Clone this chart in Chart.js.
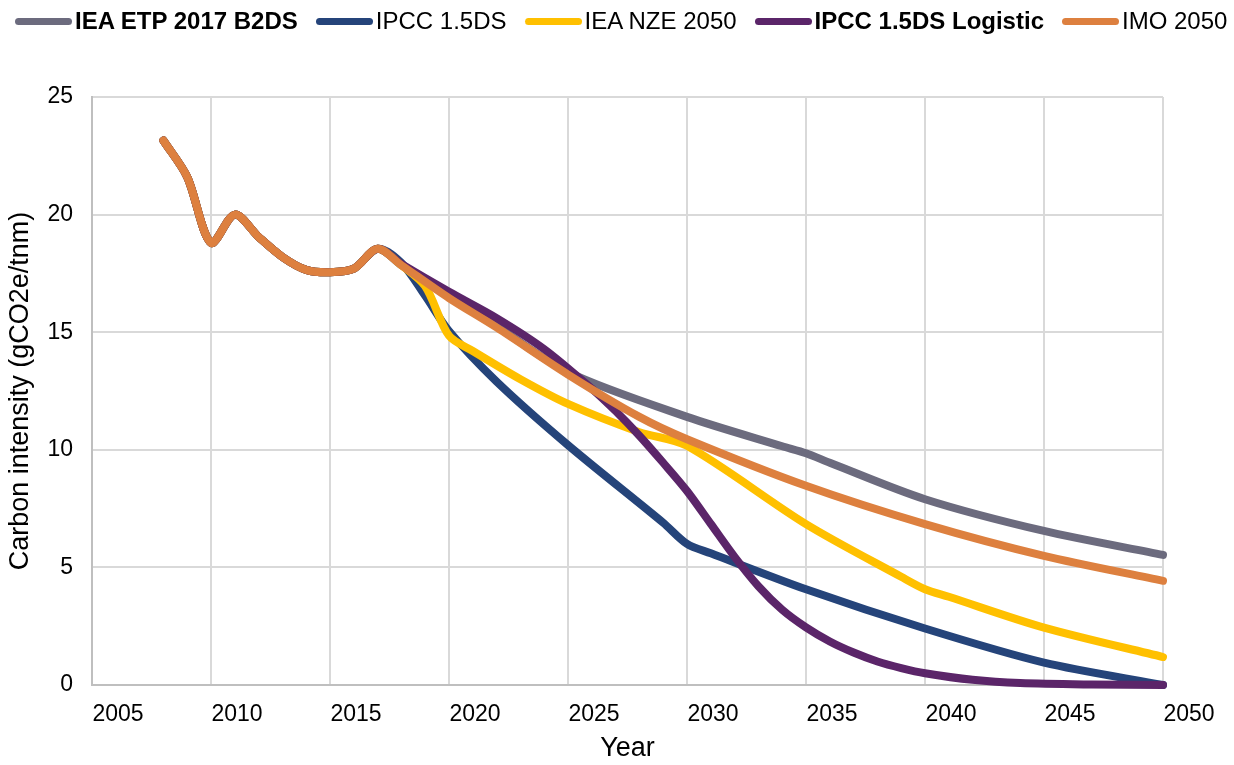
<!DOCTYPE html>
<html><head><meta charset="utf-8">
<script src="https://cdn.jsdelivr.net/npm/chart.js@4.4.1/dist/chart.umd.min.js"></script>
<style>
html,body{margin:0;padding:0;background:#fff;}
#wrap{position:relative;width:1234px;height:765px;overflow:hidden;}
canvas{position:absolute;left:0;top:0;}
#legend{position:absolute;left:15px;top:7px;display:flex;align-items:center;font-family:"Liberation Sans",Arial,sans-serif;font-size:24px;color:#000;white-space:nowrap;line-height:28px;}
.item{display:flex;align-items:center;margin-right:18px;}
.swatch{width:57px;height:7px;border-radius:4px;margin-right:3px;}
</style></head>
<body><div id="wrap"><canvas id="c" width="1234" height="765"></canvas><div id="legend"></div></div>
<script>
// ---- data ----
const seriesNames = ['IEA ETP 2017 B2DS', 'IPCC 1.5DS', 'IEA NZE 2050', 'IPCC 1.5DS Logistic', 'IMO 2050'];
const xTickLabels = ['2005','2010','2015','2020','2025','2030','2035','2040','2045','2050'];
const yTickLabels = ['0','5','10','15','20','25'];

const histYears  = [2008, 2009, 2010, 2011, 2012, 2013, 2014, 2015, 2016];
const histValues = [23.15, 21.6, 18.8, 20.0, 19.05, 18.2, 17.65, 17.55, 17.7];

const b2dsYears  = [2017, 2018, 2020, 2022, 2025, 2030, 2034, 2035, 2036, 2040, 2045, 2050];
const b2dsValues = [18.55, 17.85, 16.5, 15.25, 13.3, 11.4, 10.15, 9.85, 9.45, 7.9, 6.55, 5.53];

const ipccYears  = [2017, 2018, 2019, 2020, 2022, 2025, 2029, 2030, 2031, 2035, 2040, 2045, 2050];
const ipccValues = [18.55, 17.95, 16.55, 15.05, 12.9, 10.2, 6.9, 6.0, 5.6, 4.07, 2.4, 0.95, 0.0];

const nzeYears  = [2017, 2018, 2019, 2020, 2021, 2023, 2025, 2028, 2030, 2035, 2039, 2040, 2041, 2045, 2050];
const nzeValues = [18.55, 17.85, 16.95, 14.85, 14.2, 13.0, 11.95, 10.75, 10.17, 6.84, 4.6, 4.07, 3.75, 2.44, 1.19];

const logisticYears  = [2017, 2018, 2020, 2022, 2024, 2026, 2027, 2028, 2029, 2030, 2031, 2032, 2033, 2034, 2035, 2036, 2037, 2038, 2039, 2040, 2042, 2044, 2047, 2050];
const logisticValues = [18.55, 17.9, 16.72, 15.6, 14.28, 12.6, 11.65, 10.6, 9.45, 8.25, 6.85, 5.45, 4.2, 3.2, 2.45, 1.85, 1.38, 1.0, 0.72, 0.5, 0.22, 0.08, 0.02, 0.0];

const imoYears  = [2017, 2018, 2020, 2022, 2025, 2028, 2030, 2035, 2040, 2045, 2050];
const imoValues = [18.55, 17.85, 16.45, 15.2, 13.2, 11.4, 10.45, 8.47, 6.84, 5.49, 4.43];

// ---- styles ----
const seriesColors = ['#6C6B7E', '#25447A', '#FFC000', '#5B2569', '#DD803F'];
const legendBold = [true, false, false, true, false];
const drawOrder = [5, 4, 3, 2, 1];

function pts(years, values) {
  const xs = histYears.concat(years), ys = histValues.concat(values);
  return xs.map((x, i) => ({x: x, y: ys[i]}));
}
const seriesData = [
  pts(b2dsYears, b2dsValues),
  pts(ipccYears, ipccValues),
  pts(nzeYears, nzeValues),
  pts(logisticYears, logisticValues),
  pts(imoYears, imoValues)
];

// HTML legend
const lg = document.getElementById('legend');
seriesNames.forEach((n, i) => {
  const it = document.createElement('div'); it.className = 'item';
  const sw = document.createElement('span'); sw.className = 'swatch'; sw.style.background = seriesColors[i];
  const tx = document.createElement('span'); tx.textContent = n; if (legendBold[i]) tx.style.fontWeight = 'bold';
  it.appendChild(sw); it.appendChild(tx); lg.appendChild(it);
});

const tickFont = {family: '"Liberation Sans", Arial, sans-serif', size: 23};
const titleFont = {family: '"Liberation Sans", Arial, sans-serif', size: 27};

new Chart(document.getElementById('c'), {
  type: 'line',
  data: {
    datasets: seriesNames.map((n, i) => ({
      label: n,
      data: seriesData[i],
      borderColor: seriesColors[i],
      backgroundColor: seriesColors[i],
      borderWidth: 8,
      pointRadius: 0,
      pointHoverRadius: 0,
      tension: 0.3,
      borderCapStyle: 'round',
      borderJoinStyle: 'round',
      fill: false,
      clip: false,
      order: drawOrder[i]
    }))
  },
  options: {
    responsive: false,
    animation: false,
    devicePixelRatio: 1,
    layout: {padding: {left: 0, right: 71, top: 97, bottom: 0}},
    plugins: {legend: {display: false}, tooltip: {enabled: false}},
    scales: {
      x: {
        type: 'linear', min: 2005, max: 2050,
        afterBuildTicks: s => { s.ticks = xTickLabels.map(v => ({value: Number(v)})); },
        afterFit: s => { s.height = 80; },
        ticks: {
          autoSkip: false, maxRotation: 0, color: '#000', font: tickFont, padding: 16,
          labelOffset: 26,
          callback: (v) => String(v)
        },
        grid: {color: '#D9D9D9', lineWidth: 2, drawTicks: false},
        border: {color: '#BFBFBF', width: 2},
        title: {display: true, text: 'Year', color: '#000', font: titleFont, padding: {top: 0, bottom: 0}}
      },
      y: {
        min: 0, max: 25,
        afterBuildTicks: s => { s.ticks = yTickLabels.map(v => ({value: Number(v)})); },
        afterFit: s => { s.width = 92; },
        ticks: {color: '#000', font: tickFont, padding: 19, callback: (v) => String(v)},
        grid: {color: '#D9D9D9', lineWidth: 2, drawTicks: false},
        border: {color: '#BFBFBF', width: 2},
        title: {display: true, text: 'Carbon intensity (gCO2e/tnm)', color: '#000', font: titleFont, padding: {top: 4, bottom: 0}}
      }
    }
  }
});
</script>
</body></html>
